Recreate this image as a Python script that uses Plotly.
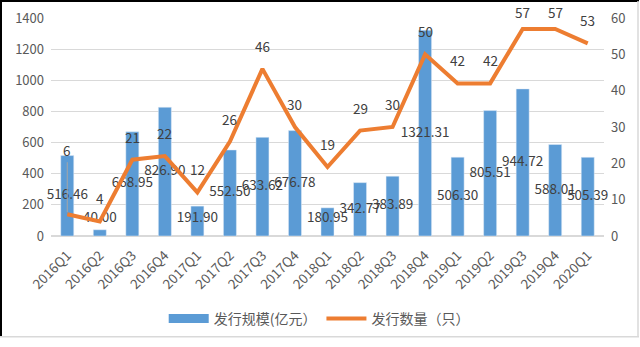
import plotly.graph_objects as go

quarters = ["2016Q1","2016Q2","2016Q3","2016Q4","2017Q1","2017Q2","2017Q3","2017Q4",
            "2018Q1","2018Q2","2018Q3","2018Q4","2019Q1","2019Q2","2019Q3","2019Q4","2020Q1"]
scale = [516.46, 40.00, 668.95, 826.90, 191.90, 552.50, 633.62, 676.78,
         180.95, 342.77, 383.89, 1321.31, 506.30, 805.51, 944.72, 588.01, 505.39]
count = [6, 4, 21, 22, 12, 26, 46, 30, 19, 29, 30, 50, 42, 42, 57, 57, 53]

bar_name = "发行规模(亿元）"
line_name = "发行数量（只）"
BLUE = "#5B9BD5"
ORANGE = "#ED7D31"
TXT = "#404040"
TICK = "#595959"
FONT = "Noto Sans CJK SC"
LBL = 13.5

fig = go.Figure()
fig.add_trace(go.Bar(x=quarters, y=scale, name=bar_name, marker_color=BLUE,
                     width=0.4, yaxis="y", showlegend=False))
# legend stand-in for the bar series (wide rectangle swatch)
fig.add_trace(go.Scatter(x=[None], y=[None], name=bar_name, mode="lines",
                         line=dict(color=BLUE, width=9), yaxis="y"))
fig.add_trace(go.Scatter(x=quarters, y=count, name=line_name, mode="lines",
                         line=dict(color=ORANGE, width=4), yaxis="y2"))
# bar value labels (centered on bars, lifted for short bars)
fig.add_trace(go.Scatter(x=quarters, y=[max(v / 2, 110) for v in scale],
                         text=[f"{v:.2f}" for v in scale], mode="text",
                         textfont=dict(size=LBL, color=TXT, family=FONT),
                         showlegend=False, hoverinfo="skip", yaxis="y", cliponaxis=False))
# line value labels
for i, (q, c) in enumerate(zip(quarters, count)):
    if i == 0:
        fig.add_annotation(x=q, y=c, xref="x", yref="y2", text=str(c),
                           showarrow=True, arrowhead=0, arrowwidth=1, arrowcolor="#A6A6A6",
                           ax=0, ay=-52, font=dict(size=LBL, color=TXT, family=FONT),
                           yanchor="bottom", standoff=2)
    else:
        fig.add_annotation(x=q, y=c, xref="x", yref="y2", text=str(c),
                           showarrow=False, yanchor="bottom",
                           yshift=11 if c < 55 else 5,
                           font=dict(size=LBL, color=TXT, family=FONT))

fig.update_layout(
    width=640, height=347,
    margin=dict(l=51, r=36, t=18, b=105),
    paper_bgcolor="white", plot_bgcolor="white",
    font=dict(family=FONT, size=12, color=TICK),
    xaxis=dict(tickangle=-45, showgrid=False, showline=False, ticks="",
               range=[-0.5, len(quarters) - 0.5], type="category",
               automargin=False, ticklabelstandoff=8,
               tickfont=dict(size=13.5, color=TICK)),
    yaxis=dict(range=[0, 1400], dtick=200, showgrid=True, gridcolor="#D9D9D9",
               gridwidth=1, zeroline=True, zerolinecolor="#D9D9D9", showline=False,
               ticks="", automargin=False, ticklabelstandoff=6,
               tickfont=dict(size=13, color=TICK)),
    yaxis2=dict(range=[0, 60], dtick=10, overlaying="y", side="right",
                showgrid=False, zeroline=False, showline=False, ticks="",
                automargin=False, ticklabelstandoff=6,
                tickfont=dict(size=13, color=TICK)),
    legend=dict(orientation="h", x=0.485, xanchor="center", y=-0.38, yanchor="middle",
                font=dict(size=14, color=TICK, family=FONT),
                itemwidth=40, traceorder="normal"),
    shapes=[
        dict(type="line", xref="paper", yref="paper", x0=-50/553, x1=-50/553,
             y0=-103.5/224, y1=1 + 17.5/224, line=dict(color="#000000", width=2)),
        dict(type="line", xref="paper", yref="paper", x0=-51/553, x1=(588)/553,
             y0=1 + 17.5/224, y1=1 + 17.5/224, line=dict(color="#000000", width=2)),
        dict(type="line", xref="paper", yref="paper", x0=-51/553, x1=(588)/553,
             y0=-103.5/224, y1=-103.5/224, line=dict(color="#D9D9D9", width=1.5)),
        dict(type="line", xref="paper", yref="paper", x0=587/553, x1=587/553,
             y0=-103.5/224, y1=1 + 17.5/224, line=dict(color="#D9D9D9", width=1.5)),
    ],
)

fig.write_html("out.html")
